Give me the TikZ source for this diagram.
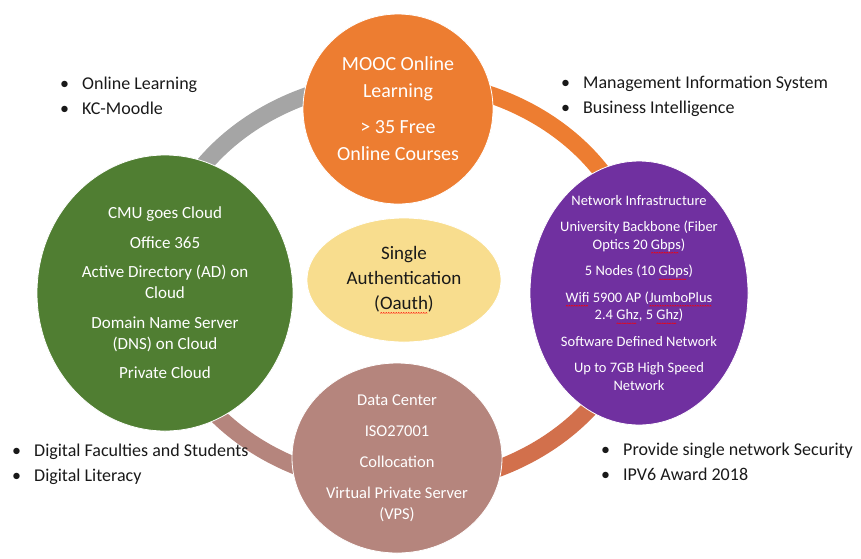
\documentclass[tikz,border=0pt]{standalone}
\usepackage{fontspec}
\setmainfont{Carlito}
\usetikzlibrary{shapes.geometric}
\definecolor{mooc}{RGB}{237,125,49}
\definecolor{cloud}{RGB}{80,126,50}
\definecolor{net}{RGB}{112,48,160}
\definecolor{dc}{RGB}{181,133,125}
\definecolor{auth}{RGB}{248,221,142}
\definecolor{rust}{RGB}{210,112,76}
\definecolor{ringgray}{RGB}{165,165,165}
\definecolor{ink}{RGB}{25,25,25}
\newcommand{\blt}[1]{\makebox[22pt][l]{\textbullet}#1}
\newsavebox{\wavebox}
\AtBeginDocument{\sbox{\wavebox}{\begin{pgfpicture}
    \pgfsetlinewidth{0.5pt}\pgfsetstrokecolor{red}
    \pgfpathmoveto{\pgfpoint{0pt}{0pt}}\pgfpathlineto{\pgfpoint{1pt}{0.9pt}}\pgfpathlineto{\pgfpoint{2pt}{0pt}}
    \pgfusepath{stroke}\end{pgfpicture}}}
\newcommand{\spell}[1]{\setbox0=\hbox{#1}\rlap{\raisebox{-4pt}{\leaders\copy\wavebox\hskip\wd0}}\box0\relax}

\begin{document}
\begin{tikzpicture}[x=1pt,y=-1pt,
    hub/.style={ellipse, inner sep=-20pt, draw=white, line width=0.8pt, text=white, align=center},
    band/.style={line width=17pt},
    notes/.style={anchor=west, inner sep=0pt, align=left, text=ink, font=\fontsize{18}{25}\selectfont}]
    \useasboundingbox (0,0) rectangle (861,558);
    \coordinate (ring) at (400,283);
    \draw[band, ringgray] (ring) ++(180:241 and 203) arc[start angle=180, end angle=270, x radius=241, y radius=203];
    \draw[band, mooc] (ring) ++(270:241 and 203) arc[start angle=270, end angle=360, x radius=241, y radius=203];
    \draw[band, rust] (ring) ++(0:241 and 203) arc[start angle=0, end angle=90, x radius=241, y radius=203];
    \draw[band, dc] (ring) ++(90:241 and 203) arc[start angle=90, end angle=180, x radius=241, y radius=203];
    \node[hub, fill=mooc, minimum width=190pt, minimum height=190pt, font=\fontsize{20}{27}\selectfont] (mooc) at (398,109)
        {MOOC Online\\ Learning\\[9pt] > 35 Free\\ Online Courses};
    \node[hub, fill=cloud, minimum width=256pt, minimum height=276pt, font=\fontsize{17}{21}\selectfont] (cloud) at (165,293)
        {CMU goes Cloud\\[8.5pt] Office 365\\[8.5pt] Active Directory (AD) on\\ Cloud\\[8.5pt] Domain Name Server\\ (DNS) on Cloud\\[8.5pt] Private Cloud};
    \node[hub, fill=net, minimum width=218pt, minimum height=264pt, font=\fontsize{14.5}{17.5}\selectfont] (net) at (639,293)
        {Network Infrastructure\\[9pt] University Backbone (Fiber\\ Optics 20 \spell{Gbps})\\[9pt] 5 Nodes (10 \spell{Gbps})\\[9pt]
         \spell{Wifi} 5900 AP (\spell{JumboPlus}\\ 2.4 \spell{Ghz}, 5 \spell{Ghz})\\[9pt] Software Defined Network\\[9pt] Up to 7GB High Speed\\ Network};
    \node[hub, fill=dc, minimum width=210pt, minimum height=190pt, font=\fontsize{16.5}{21}\selectfont] (dc) at (397,458)
        {Data Center\\[10pt] ISO27001\\[10pt] Collocation\\[10pt] Virtual Private Server\\ (VPS)};
    \node[hub, fill=auth, text=ink, minimum width=194pt, minimum height=124pt, font=\fontsize{19}{25}\selectfont] (auth) at (404,280)
        {Single\\ Authentication\\ (\spell{Oauth})};
    \node[notes] (tl) at (60,96) {\blt{Online Learning}\\ \blt{KC-Moodle}};
    \node[notes] (tr) at (561,96) {\blt{Management Information System}\\ \blt{Business Intelligence}};
    \node[notes] (bl) at (12,464) {\blt{Digital Faculties and Students}\\ \blt{Digital Literacy}};
    \node[notes] (br) at (601,462) {\blt{Provide single network Security}\\ \blt{IPV6 Award 2018}};
\end{tikzpicture}
\end{document}
